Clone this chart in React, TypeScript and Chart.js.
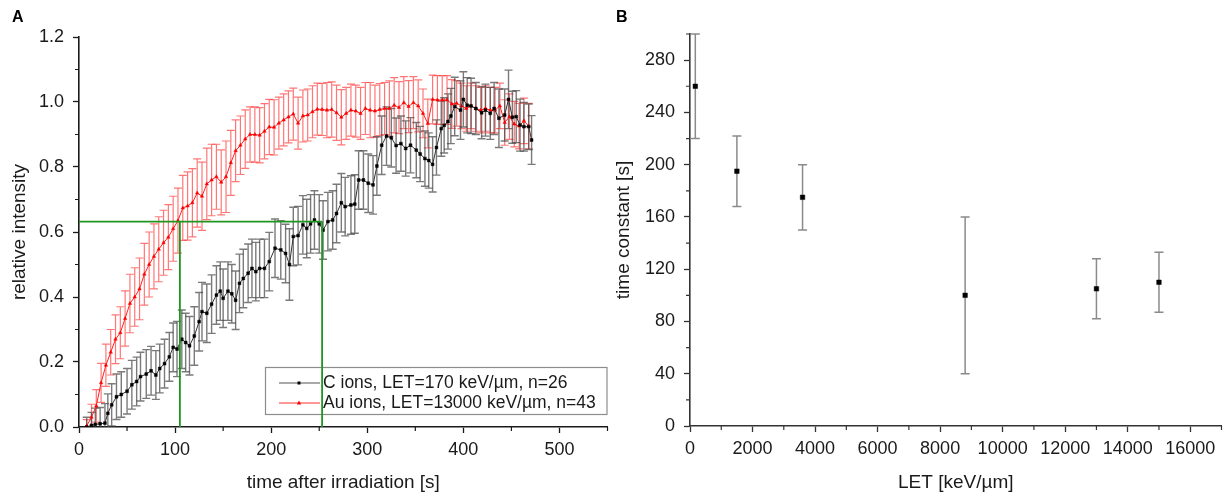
import React, { useEffect, useRef } from 'react';
import { Chart, registerables } from 'chart.js';

Chart.register(...registerables);

// ---------- Panel A data ----------
const auTimes = [8, 13, 18, 23, 28, 33, 38, 43, 48, 53, 58, 63, 68, 73, 78, 83, 88, 93, 98, 103, 108, 113, 118, 123, 128, 133, 138, 143, 148, 153, 158, 163, 168, 173, 178, 183, 188, 193, 198, 203, 208, 213, 218, 223, 228, 233, 238, 243, 248, 253, 258, 263, 268, 273, 278, 283, 288, 293, 298, 303, 308, 313, 318, 323, 328, 333, 338, 343, 348, 353, 358, 363, 368, 373, 378, 383, 388, 393, 398, 403, 408, 413, 418, 423, 428, 433, 438, 443, 448, 453, 458, 463, 468];
const auValues = [0.003, 0.03, 0.065, 0.136, 0.19, 0.23, 0.27, 0.29, 0.334, 0.38, 0.4, 0.425, 0.47, 0.5, 0.525, 0.547, 0.567, 0.584, 0.61, 0.635, 0.674, 0.68, 0.69, 0.72, 0.71, 0.748, 0.76, 0.77, 0.753, 0.77, 0.813, 0.85, 0.867, 0.886, 0.9, 0.9, 0.898, 0.91, 0.923, 0.922, 0.935, 0.945, 0.954, 0.963, 0.935, 0.957, 0.96, 0.97, 0.978, 0.977, 0.975, 0.977, 0.967, 0.953, 0.965, 0.975, 0.972, 0.965, 0.98, 0.975, 0.972, 0.977, 0.98, 0.98, 0.99, 0.983, 0.998, 0.986, 0.998, 0.988, 0.965, 0.934, 1.008, 1.006, 1.006, 1.006, 0.994, 0.996, 0.988, 0.98, 0.988, 0.98, 0.975, 0.98, 0.975, 0.975, 0.988, 0.937, 0.955, 0.932, 0.926, 0.942, 0.926];
const auErrors = [0.02, 0.04, 0.05, 0.06, 0.065, 0.07, 0.075, 0.08, 0.085, 0.09, 0.09, 0.095, 0.095, 0.1, 0.1, 0.1, 0.1, 0.1, 0.1, 0.1, 0.1, 0.105, 0.105, 0.105, 0.105, 0.11, 0.11, 0.1, 0.1, 0.11, 0.1, 0.095, 0.09, 0.09, 0.085, 0.085, 0.085, 0.085, 0.085, 0.085, 0.08, 0.08, 0.08, 0.08, 0.08, 0.08, 0.08, 0.08, 0.08, 0.08, 0.085, 0.085, 0.085, 0.085, 0.08, 0.08, 0.08, 0.08, 0.08, 0.085, 0.08, 0.08, 0.08, 0.085, 0.085, 0.08, 0.08, 0.08, 0.08, 0.08, 0.075, 0.075, 0.075, 0.075, 0.075, 0.075, 0.075, 0.07, 0.07, 0.07, 0.07, 0.07, 0.07, 0.07, 0.07, 0.07, 0.07, 0.07, 0.07, 0.07, 0.07, 0.07, 0.07];

const cTimes = [8, 13, 17, 22, 27, 30, 34, 39, 44, 50, 55, 60, 64, 70, 75, 80, 84, 89, 94, 98, 102, 107, 111, 115, 120, 125, 128, 133, 138, 143, 147, 150, 155, 159, 163, 167, 171, 176, 180, 184, 188, 193, 198, 204, 210, 215, 219, 223, 228, 233, 237, 241, 245, 250, 254, 259, 264, 268, 273, 277, 283, 287, 291, 296, 301, 306, 310, 315, 320, 325, 330, 335, 340, 345, 351, 355, 360, 364, 368, 372, 377, 380, 384, 387, 391, 397, 400, 404, 408, 413, 419, 423, 428, 432, 437, 443, 447, 451, 455, 459, 463, 468, 471];
const cValues = [0.0, 0.005, 0.008, 0.01, 0.012, 0.042, 0.068, 0.093, 0.1, 0.11, 0.13, 0.14, 0.155, 0.163, 0.173, 0.16, 0.18, 0.195, 0.216, 0.245, 0.24, 0.27, 0.26, 0.25, 0.28, 0.324, 0.355, 0.35, 0.378, 0.406, 0.418, 0.396, 0.418, 0.41, 0.39, 0.442, 0.457, 0.473, 0.488, 0.478, 0.488, 0.488, 0.509, 0.55, 0.545, 0.534, 0.5, 0.586, 0.589, 0.622, 0.611, 0.625, 0.637, 0.625, 0.606, 0.632, 0.637, 0.657, 0.69, 0.678, 0.683, 0.686, 0.76, 0.76, 0.75, 0.745, 0.803, 0.867, 0.895, 0.89, 0.866, 0.872, 0.857, 0.867, 0.852, 0.84, 0.826, 0.82, 0.808, 0.86, 0.918, 0.928, 0.94, 0.957, 0.986, 0.975, 1.008, 0.99, 0.988, 0.98, 0.967, 0.975, 0.965, 0.98, 0.95, 0.96, 1.008, 0.953, 0.955, 0.929, 0.924, 0.924, 0.883];
const cErrors = [0.03, 0.04, 0.05, 0.05, 0.06, 0.06, 0.065, 0.07, 0.07, 0.07, 0.075, 0.075, 0.075, 0.075, 0.075, 0.075, 0.075, 0.075, 0.075, 0.075, 0.085, 0.09, 0.09, 0.09, 0.09, 0.09, 0.09, 0.09, 0.09, 0.09, 0.09, 0.09, 0.09, 0.09, 0.09, 0.09, 0.09, 0.09, 0.09, 0.09, 0.09, 0.09, 0.09, 0.09, 0.09, 0.09, 0.11, 0.09, 0.09, 0.09, 0.09, 0.09, 0.09, 0.09, 0.09, 0.09, 0.09, 0.09, 0.09, 0.09, 0.09, 0.09, 0.09, 0.09, 0.09, 0.09, 0.09, 0.09, 0.09, 0.09, 0.085, 0.085, 0.085, 0.085, 0.085, 0.085, 0.085, 0.085, 0.085, 0.085, 0.085, 0.085, 0.085, 0.085, 0.09, 0.09, 0.085, 0.085, 0.085, 0.08, 0.08, 0.08, 0.08, 0.08, 0.09, 0.08, 0.09, 0.08, 0.08, 0.08, 0.075, 0.07, 0.075];

const fitLevel = 0.632;
const auTau = 105;
const cTau = 253;

const legendLabels = ['C ions, LET=170 keV/\u00b5m, n=26', 'Au ions, LET=13000 keV/\u00b5m, n=43'];
const aTicksX = [0, 100, 200, 300, 400, 500];
const aTicksY = [0, 0.2, 0.4, 0.6, 0.8, 1.0, 1.2];
const aMinorX = [50, 150, 250, 350, 450, 550];
const aMinorY = [0.1, 0.3, 0.5, 0.7, 0.9, 1.1];

// ---------- Panel B data ----------
const letValues = [170, 1500, 3600, 8800, 13000, 15000];
const tauValues = [260, 195, 175, 100, 105, 110];
const tauErrors = [40, 27, 25, 60, 23, 23];
const bTicksX = [0, 2000, 4000, 6000, 8000, 10000, 12000, 14000, 16000];
const bTicksY = [0, 40, 80, 120, 160, 200, 240, 280];
const bMinorX = [1000, 3000, 5000, 7000, 9000, 11000, 13000, 15000, 17000];
const bMinorY = [20, 60, 100, 140, 180, 220, 260, 300];

const FONT = '"Liberation Sans", Arial, Helvetica, sans-serif';
const TEXT = '#1a1a1a';

const errorBarPlugin = {
  id: 'errorBars',
  beforeDatasetsDraw(chart: any) {
    const { ctx, chartArea } = chart;
    const x = chart.scales.x;
    const y = chart.scales.y;
    ctx.save();
    ctx.beginPath();
    ctx.rect(chartArea.left - 10, chartArea.top - 2, chartArea.right - chartArea.left + 20, chartArea.bottom - chartArea.top + 2);
    ctx.clip();
    const order = chart.data.datasets.map((_: any, i: number) => i).reverse();
    order.forEach((i: number) => {
      const ds = chart.data.datasets[i];
      if (!ds.errors) return;
      ctx.strokeStyle = ds.errorColor;
      ctx.lineWidth = ds.errorWidth;
      const cap = ds.capHalf;
      ds.data.forEach((p: any, j: number) => {
        const e = ds.errors[j];
        const px = x.getPixelForValue(p.x);
        const yt = y.getPixelForValue(p.y + e);
        const yb = y.getPixelForValue(p.y - e);
        ctx.beginPath();
        ctx.moveTo(px, yt);
        ctx.lineTo(px, yb);
        ctx.moveTo(px - cap, yt);
        ctx.lineTo(px + cap, yt);
        ctx.moveTo(px - cap, yb);
        ctx.lineTo(px + cap, yb);
        ctx.stroke();
      });
    });
    ctx.restore();
  },
};

function minorTicks(xs: number[], ys: number[], color: string) {
  return {
    id: 'minorTicks',
    afterDraw(chart: any) {
      const { ctx, chartArea } = chart;
      const x = chart.scales.x;
      const y = chart.scales.y;
      ctx.save();
      ctx.strokeStyle = color;
      ctx.lineWidth = 1.2;
      ctx.beginPath();
      xs.forEach((v) => {
        const px = x.getPixelForValue(v);
        ctx.moveTo(px, chartArea.bottom);
        ctx.lineTo(px, chartArea.bottom + 4);
      });
      ys.forEach((v) => {
        const py = y.getPixelForValue(v);
        ctx.moveTo(chartArea.left, py);
        ctx.lineTo(chartArea.left - 4, py);
      });
      ctx.stroke();
      ctx.restore();
    },
  };
}

function panelLabel(text: string, px: number, py: number) {
  return {
    id: 'panelLabel',
    afterDraw(chart: any) {
      const ctx = chart.ctx;
      ctx.save();
      ctx.fillStyle = '#000';
      ctx.font = `bold 16px ${FONT}`;
      ctx.textAlign = 'left';
      ctx.textBaseline = 'alphabetic';
      ctx.fillText(text, px, py);
      ctx.restore();
    },
  };
}

function drawTriangle(ctx: any, cx: number, cy: number, r: number) {
  ctx.beginPath();
  ctx.moveTo(cx, cy - r);
  ctx.lineTo(cx + r * 0.9, cy + r * 0.6);
  ctx.lineTo(cx - r * 0.9, cy + r * 0.6);
  ctx.closePath();
  ctx.fill();
}

const legendAndFitPlugin = {
  id: 'legendAndFit',
  afterDatasetsDraw(chart: any) {
    const { ctx, chartArea } = chart;
    const x = chart.scales.x;
    const y = chart.scales.y;
    const bx = 265;
    const by = 367;
    const bw = chartArea.right - bx;
    const bh = 47;
    ctx.save();
    ctx.fillStyle = '#fff';
    ctx.fillRect(bx, by, bw, bh);
    ctx.strokeStyle = '#8c8c8c';
    ctx.lineWidth = 1.2;
    ctx.strokeRect(bx + 0.5, by + 0.5, bw - 1, bh);
    const rows = [by + 16, by + 36];
    rows.forEach((ry, i) => {
      ctx.strokeStyle = i === 0 ? '#555' : '#ff3030';
      ctx.lineWidth = 1;
      ctx.beginPath();
      ctx.moveTo(279, ry);
      ctx.lineTo(320, ry);
      ctx.stroke();
      ctx.fillStyle = i === 0 ? '#000' : '#ff0000';
      if (i === 0) ctx.fillRect(297.5, ry - 1.5, 3, 3);
      else drawTriangle(ctx, 299, ry, 2.4);
      ctx.fillStyle = TEXT;
      ctx.font = `17.5px ${FONT}`;
      ctx.textAlign = 'left';
      ctx.textBaseline = 'middle';
      ctx.fillText(legendLabels[i], 323, ry + 0.5);
    });
    const yl = y.getPixelForValue(fitLevel);
    const x0 = x.getPixelForValue(0);
    const xa = x.getPixelForValue(auTau);
    const xc = x.getPixelForValue(cTau);
    const yb = y.getPixelForValue(0);
    ctx.strokeStyle = '#1f961f';
    ctx.lineWidth = 1.8;
    ctx.beginPath();
    ctx.moveTo(x0, yl);
    ctx.lineTo(xc, yl);
    ctx.moveTo(xa, yl);
    ctx.lineTo(xa, yb);
    ctx.moveTo(xc, yl);
    ctx.lineTo(xc, yb);
    ctx.stroke();
    ctx.restore();
  },
};

function axisCommon(color: string) {
  return {
    grid: {
      display: true,
      drawOnChartArea: false,
      drawTicks: true,
      tickLength: 6,
      color,
      tickColor: color,
      tickWidth: 1.3,
    },
    border: { display: true, color, width: 1.6 },
  };
}

function fixedTicks(values: number[]) {
  return (scale: any) => {
    scale.ticks = values.map((v) => ({ value: v }));
  };
}

function makeConfigA(): any {
  return {
    type: 'scatter',
    data: {
      datasets: [
        {
          label: 'C',
          data: cTimes.map((t, i) => ({ x: t, y: cValues[i] })),
          errors: cErrors,
          errorColor: 'rgba(70,70,70,0.72)',
          errorWidth: 1.4,
          capHalf: 4,
          showLine: true,
          borderColor: '#333',
          borderWidth: 1,
          pointStyle: 'rect',
          pointRadius: 2,
          pointBackgroundColor: '#000',
          pointBorderColor: '#000',
          pointBorderWidth: 0.5,
        },
        {
          label: 'Au',
          data: auTimes.map((t, i) => ({ x: t, y: auValues[i] })),
          errors: auErrors,
          errorColor: 'rgba(255,60,60,0.7)',
          errorWidth: 1.2,
          capHalf: 4,
          showLine: true,
          borderColor: '#ff2020',
          borderWidth: 1,
          pointStyle: 'triangle',
          pointRadius: 2,
          pointBackgroundColor: '#ff0000',
          pointBorderColor: '#ff0000',
          pointBorderWidth: 0.5,
        },
      ],
    },
    options: {
      responsive: false,
      animation: false,
      events: [],
      layout: { padding: { left: 0, top: 37, right: 4, bottom: 0 } },
      plugins: { legend: { display: false }, tooltip: { enabled: false } },
      scales: {
        x: {
          type: 'linear',
          position: 'bottom',
          min: 0,
          max: 550,
          bounds: 'data',
          ...axisCommon('#1a1a1a'),
          afterBuildTicks: fixedTicks(aTicksX),
          ticks: {
            autoSkip: false,
            maxRotation: 0,
            padding: 6,
            color: TEXT,
            font: { family: FONT, size: 18 },
            callback: (v: any) => String(v),
          },
          title: {
            display: true,
            text: 'time after irradiation [s]',
            color: TEXT,
            font: { family: FONT, size: 19 },
            padding: { top: 0, bottom: 1 },
          },
          afterFit: (s: any) => {
            s.height = 68;
          },
        },
        y: {
          type: 'linear',
          position: 'left',
          min: 0,
          max: 1.2,
          bounds: 'data',
          ...axisCommon('#1a1a1a'),
          afterBuildTicks: fixedTicks(aTicksY),
          ticks: {
            autoSkip: false,
            padding: 9,
            color: TEXT,
            font: { family: FONT, size: 18 },
            callback: (v: any) => Number(v).toFixed(1),
          },
          title: {
            display: true,
            text: 'relative intensity',
            color: TEXT,
            font: { family: FONT, size: 19 },
            padding: { top: 8, bottom: 0 },
          },
          afterFit: (s: any) => {
            s.width = 79;
          },
        },
      },
    },
    plugins: [errorBarPlugin, legendAndFitPlugin, minorTicks(aMinorX, aMinorY, '#1a1a1a'), panelLabel('A', 12, 22)],
  };
}

function makeConfigB(): any {
  return {
    type: 'scatter',
    data: {
      datasets: [
        {
          label: 'tau',
          data: letValues.map((l, i) => ({ x: l, y: tauValues[i] })),
          errors: tauErrors,
          errorColor: '#8a8a8a',
          errorWidth: 1.5,
          capHalf: 4.5,
          showLine: false,
          pointStyle: 'rect',
          pointRadius: 3.2,
          pointBackgroundColor: '#000',
          pointBorderColor: '#000',
          pointBorderWidth: 0.5,
        },
      ],
    },
    options: {
      responsive: false,
      animation: false,
      events: [],
      layout: { padding: { left: 0, top: 34, right: 3, bottom: 0 } },
      plugins: { legend: { display: false }, tooltip: { enabled: false } },
      scales: {
        x: {
          type: 'linear',
          position: 'bottom',
          min: 0,
          max: 17000,
          bounds: 'data',
          ...axisCommon('#333'),
          afterBuildTicks: fixedTicks(bTicksX),
          ticks: {
            autoSkip: false,
            maxRotation: 0,
            padding: 6,
            color: TEXT,
            font: { family: FONT, size: 18 },
            callback: (v: any) => String(v),
          },
          title: {
            display: true,
            text: 'LET [keV/\u00b5m]',
            color: TEXT,
            font: { family: FONT, size: 19 },
            padding: { top: 0, bottom: 1 },
          },
          afterFit: (s: any) => {
            s.height = 69;
          },
        },
        y: {
          type: 'linear',
          position: 'left',
          min: 0,
          max: 300,
          bounds: 'data',
          ...axisCommon('#333'),
          afterBuildTicks: fixedTicks(bTicksY),
          ticks: {
            autoSkip: false,
            padding: 9,
            color: TEXT,
            font: { family: FONT, size: 18 },
            callback: (v: any) => String(v),
          },
          title: {
            display: true,
            text: 'time constant [s]',
            color: TEXT,
            font: { family: FONT, size: 19 },
            padding: { top: 0, bottom: 0 },
          },
          afterFit: (s: any) => {
            s.width = 78;
          },
        },
      },
    },
    plugins: [errorBarPlugin, minorTicks(bMinorX, bMinorY, '#333'), panelLabel('B', 4, 22)],
  };
}

export default function App() {
  const refA = useRef<HTMLCanvasElement>(null);
  const refB = useRef<HTMLCanvasElement>(null);

  useEffect(() => {
    const a = new Chart(refA.current as HTMLCanvasElement, makeConfigA());
    const b = new Chart(refB.current as HTMLCanvasElement, makeConfigB());
    return () => {
      a.destroy();
      b.destroy();
    };
  }, []);

  return (
    <div style={{ position: 'absolute', left: 0, top: 0, width: 1226, height: 495, background: '#fff' }}>
      <canvas
        ref={refA}
        width={612}
        height={495}
        style={{ position: 'absolute', left: 0, top: 0, width: 612, height: 495 }}
      />
      <canvas
        ref={refB}
        width={614}
        height={495}
        style={{ position: 'absolute', left: 612, top: 0, width: 614, height: 495 }}
      />
    </div>
  );
}
